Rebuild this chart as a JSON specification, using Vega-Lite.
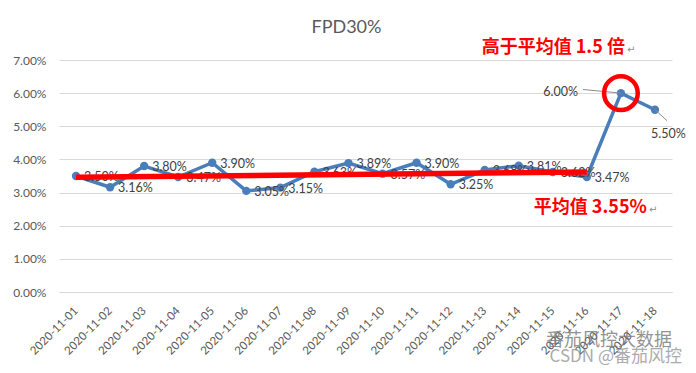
{
  "$schema": "https://vega.github.io/schema/vega-lite/v6.json",
  "width": 613,
  "height": 232,
  "autosize": "none",
  "padding": {"left": 59, "top": 60, "right": 24, "bottom": 81},
  "background": "white",
  "config": {"view": {"stroke": null}, "font": "Lato"},
  "title": {"text": "FPD30%", "fontSize": 18, "font": "Lato", "fontWeight": "normal", "color": "#595959", "anchor": "middle", "dx": -19, "dy": 13, "offset": 15},
  "datasets": {
    "fpd": [
      {"date": "2020-11-01", "v": 0.0350},
      {"date": "2020-11-02", "v": 0.0316},
      {"date": "2020-11-03", "v": 0.0380},
      {"date": "2020-11-04", "v": 0.0347},
      {"date": "2020-11-05", "v": 0.0390},
      {"date": "2020-11-06", "v": 0.0305},
      {"date": "2020-11-07", "v": 0.0315},
      {"date": "2020-11-08", "v": 0.0363},
      {"date": "2020-11-09", "v": 0.0389},
      {"date": "2020-11-10", "v": 0.0357},
      {"date": "2020-11-11", "v": 0.0390},
      {"date": "2020-11-12", "v": 0.0325},
      {"date": "2020-11-13", "v": 0.0368},
      {"date": "2020-11-14", "v": 0.0381},
      {"date": "2020-11-15", "v": 0.0362},
      {"date": "2020-11-16", "v": 0.0347},
      {"date": "2020-11-17", "v": 0.0600},
      {"date": "2020-11-18", "v": 0.0550}
    ],
    "avgline": [
      {"date": "2020-11-01", "v": 0.0346},
      {"date": "2020-11-16", "v": 0.0362}
    ],
    "notes": [
      {"date": "2020-11-17", "v": 0.0735, "label": "高于平均值 1.5 倍", "kind": "high"},
      {"date": "2020-11-17", "v": 0.0252, "label": "平均值 3.55%", "kind": "avg"},
      {"date": "2020-11-18", "v": -0.0147, "label": "番茄风控大数据", "kind": "wm1"},
      {"date": "2020-11-18", "v": -0.0196, "label": "CSDN @番茄风控", "kind": "wm2"}
    ]
  },
  "encoding": {
    "x": {
      "field": "date", "type": "ordinal", "title": null,
      "scale": {"type": "point", "padding": 0.5},
      "axis": {"labelAngle": -45, "labelAlign": "right", "labelBaseline": "middle", "labelPadding": 17, "labelFontSize": 11.5, "labelColor": "#595959", "labelFont": "Lato", "ticks": false, "domain": true, "domainColor": "#d9d9d9", "grid": false}
    },
    "y": {
      "field": "v", "type": "quantitative", "title": null,
      "scale": {"domain": [0, 0.07], "nice": false},
      "axis": {"values": [0, 0.01, 0.02, 0.03, 0.04, 0.05, 0.06, 0.07], "format": ".2%", "labelFontSize": 12, "labelColor": "#595959", "labelFont": "Lato", "labelPadding": 13, "ticks": false, "domain": false, "grid": true, "gridColor": "#d9d9d9", "gridWidth": 1}
    }
  },
  "layer": [
    {
      "data": {"name": "fpd"},
      "mark": {"type": "line", "color": "#4a7ebb", "strokeWidth": 3.5, "point": {"filled": true, "size": 70, "color": "#4a7ebb"}}
    },
    {
      "data": {"name": "fpd"},
      "transform": [{"filter": "datum.date != '2020-11-17' && datum.date != '2020-11-18'"}],
      "mark": {"type": "text", "align": "left", "baseline": "middle", "dx": 8, "dy": 1, "fontSize": 12.5, "font": "Lato", "color": "#404040"},
      "encoding": {"text": {"field": "v", "type": "quantitative", "format": ".2%"}}
    },
    {
      "data": {"name": "fpd"},
      "transform": [{"filter": "datum.date == '2020-11-17'"}],
      "mark": {"type": "rule", "color": "#8c8c8c", "strokeWidth": 1, "x2Offset": -38},
      "encoding": {"x2": {"field": "date"}, "y2": {"datum": 0.0611}}
    },
    {
      "data": {"name": "fpd"},
      "transform": [{"filter": "datum.date == '2020-11-18'"}],
      "mark": {"type": "rule", "color": "#8c8c8c", "strokeWidth": 1, "x2Offset": 12},
      "encoding": {"x2": {"field": "date"}, "y2": {"datum": 0.0517}}
    },
    {
      "data": {"name": "fpd"},
      "transform": [{"filter": "datum.date == '2020-11-17'"}],
      "mark": {"type": "text", "align": "right", "baseline": "middle", "dx": -43, "dy": -1, "fontSize": 12.5, "font": "Lato", "color": "#404040"},
      "encoding": {"text": {"field": "v", "type": "quantitative", "format": ".2%"}}
    },
    {
      "data": {"name": "fpd"},
      "transform": [{"filter": "datum.date == '2020-11-18'"}],
      "mark": {"type": "text", "align": "left", "baseline": "middle", "dx": -4, "dy": 24, "fontSize": 12.5, "font": "Lato", "color": "#404040"},
      "encoding": {"text": {"field": "v", "type": "quantitative", "format": ".2%"}}
    },
    {
      "data": {"name": "avgline"},
      "mark": {"type": "line", "color": "#ff0000", "strokeWidth": 5.5, "strokeCap": "butt"}
    },
    {
      "data": {"name": "fpd"},
      "transform": [{"filter": "datum.date == '2020-11-17'"}],
      "mark": {"type": "point", "shape": "circle", "filled": false, "size": 1134, "stroke": "#ff0000", "strokeWidth": 4.5, "opacity": 1}
    },
    {
      "data": {"name": "notes"},
      "transform": [{"filter": "datum.kind == 'high'"}],
      "mark": {"type": "text", "align": "right", "baseline": "middle", "dx": 4, "fontSize": 18, "fontWeight": "bold", "font": "Noto Sans CJK SC", "color": "#ff0000"},
      "encoding": {"text": {"field": "label"}}
    },
    {
      "data": {"name": "notes"},
      "transform": [{"filter": "datum.kind == 'avg'"}],
      "mark": {"type": "text", "align": "right", "baseline": "middle", "dx": 26, "fontSize": 18, "fontWeight": "bold", "font": "Noto Sans CJK SC", "color": "#ff0000"},
      "encoding": {"text": {"field": "label"}}
    },
    {
      "data": {"name": "notes"},
      "transform": [{"filter": "datum.kind == 'high'"}],
      "mark": {"type": "text", "text": "↵", "align": "left", "baseline": "middle", "dx": 6, "dy": 2, "fontSize": 10, "font": "DejaVu Sans", "color": "#8c8c8c"}
    },
    {
      "data": {"name": "notes"},
      "transform": [{"filter": "datum.kind == 'avg'"}],
      "mark": {"type": "text", "text": "↵", "align": "left", "baseline": "middle", "dx": 28, "dy": 2, "fontSize": 10, "font": "DejaVu Sans", "color": "#8c8c8c"}
    },
    {
      "data": {"name": "notes"},
      "transform": [{"filter": "datum.kind == 'wm1'"}],
      "mark": {"type": "text", "align": "right", "baseline": "middle", "dx": 17, "fontSize": 18, "font": "Noto Sans CJK SC", "color": "#707070", "opacity": 0.75},
      "encoding": {"text": {"field": "label"}}
    },
    {
      "data": {"name": "notes"},
      "transform": [{"filter": "datum.kind == 'wm2'"}],
      "mark": {"type": "text", "align": "right", "baseline": "middle", "dx": 27, "fontSize": 17, "font": "Noto Sans CJK SC", "color": "#909090", "opacity": 0.75},
      "encoding": {"text": {"field": "label"}}
    }
  ]
}
